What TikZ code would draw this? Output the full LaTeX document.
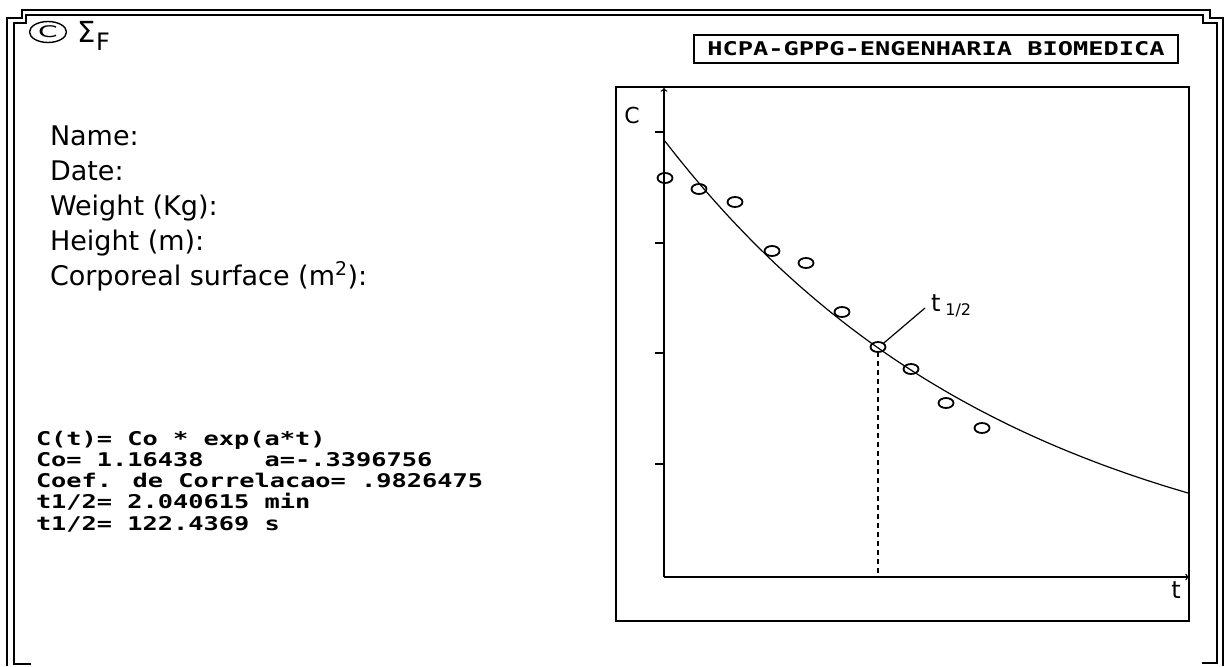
\documentclass[tikz,border=0pt]{standalone}
\usepackage{fontspec}
\setmainfont{DejaVu Sans}
\newfontfamily\dos{DejaVu Sans Mono}
\usetikzlibrary{shapes.geometric}
\newcommand\largo[1]{\scalebox{1.34}[1]{#1}}
\begin{document}
\begin{tikzpicture}[
  x=1pt, y=-1pt,
  every node/.style={inner sep=0pt, outer sep=0pt},
  linha/.style={line width=1.6pt},
  campo/.style={anchor=base west, font=\fontsize{27}{32}\selectfont},
  tela/.style={anchor=base west, font=\dos\bfseries\fontsize{18.9}{21}\selectfont},
  ponto/.style={draw, ellipse, line width=1.8pt, minimum width=15pt, minimum height=10pt}
]
\useasboundingbox (0,0) rectangle (1225,666);
% moldura dupla com cantos recortados
\draw[linha] (7,666) -- (7,18) -- (22,18) -- (22,10) -- (1210,10) -- (1210,18) -- (1223,18) -- (1223,666);
\draw[linha] (31,664) -- (14,664) -- (14,23) -- (26,23) -- (26,15) -- (1203,15) -- (1203,23) -- (1217,23) -- (1217,663) -- (1202,663);

\node (copy) [draw, ellipse, line width=1.4pt, minimum width=37pt, minimum height=21pt, font=\fontsize{20}{20}\selectfont] at (48,32) {\scalebox{1.4}[0.8]{C}};
\node (sigma) [font=\fontsize{29}{29}\selectfont] at (87,32) {Σ};
\node (efe) [font=\fontsize{24}{24}\selectfont] at (103,42) {F};

\node (titulo) [draw, linha, minimum width=484pt, minimum height=28pt, font=\dos\bfseries\fontsize{18.9}{21}\selectfont] at (936,49) {\largo{HCPA-GPPG-ENGENHARIA BIOMEDICA}};

\foreach \txt [count=\i] in {Name:, Date:, Weight (Kg):, Height (m):, Corporeal surface (m\textsuperscript{2}):}
  \node (campo\i) [campo] at (50,110+35*\i) {\txt};

\foreach \txt [count=\i] in {C(t)= Co * exp(a*t), Co= 1.16438~~~~a=-.3396756, Coef. de Correlacao= .9826475, t1/2= 2.040615 min, t1/2= 122.4369 s}
  \node (res\i) [tela] at (36,424+21.2*\i) {\largo{\txt}};

% grafico
\draw[linha] (616,87) rectangle (1189,621);
\coordinate (origem) at (664,577);
\coordinate (topo) at (664,88);
\coordinate (fim) at (1189,577);
\draw[line width=1.4pt, ->] (origem) -- (topo);
\draw[line width=1.4pt, ->] (origem) -- (fim);
\foreach \y in {132,243,353,464}
  \draw[line width=1.4pt] (655,\y) -- (664,\y);
\node (eixoc) [font=\fontsize{22}{22}\selectfont] at (632,115) {C};
\node (eixot) [font=\fontsize{24}{24}\selectfont] at (1176,590) {t};
\draw[line width=1.2pt] plot[domain=664:1189, samples=80] (\x, {595-455*exp(-0.0028525*(\x-664))});

\foreach \px/\py [count=\i] in {665/178, 699/189, 735/202, 772/251, 806/263, 842/312, 878/347, 911/369, 946/403, 982/428}
  \node (p\i) [ponto] at (\px,\py) {};

\draw[line width=1.2pt, dash pattern=on 5pt off 4pt] (p7.south) -- (p7.south |- origem);
\coordinate (ancora) at (925,308);
\draw[line width=1.2pt] (p7.north east) -- (ancora); % meia-vida
\node (meia) [anchor=base west, font=\fontsize{24}{24}\selectfont] at (931,311) {t\hspace{5pt}\raisebox{-4pt}{\fontsize{16}{16}\selectfont 1/2}};
\end{tikzpicture}
\end{document}
